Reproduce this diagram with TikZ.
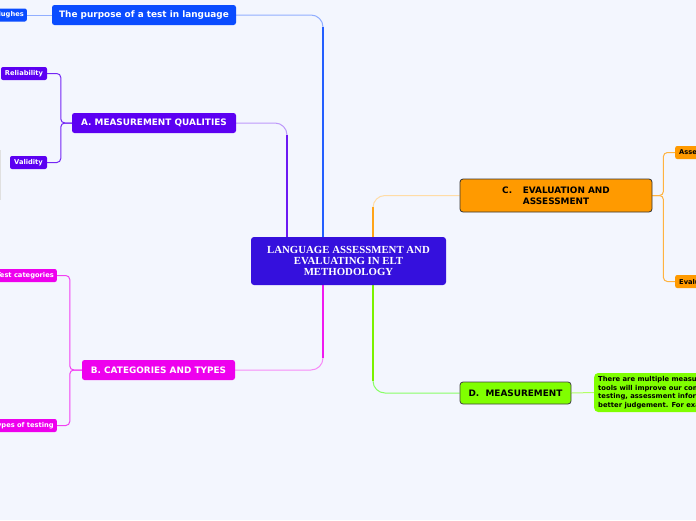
\documentclass[tikz,border=0pt]{standalone}
\usepackage{fontspec}
\setmainfont{DejaVu Sans}
\newfontfamily\serifb{Liberation Serif}
\pgfdeclarelayer{bg}
\pgfdeclarelayer{lines}
\pgfsetlayers{bg,lines,main}
\definecolor{bgc}{HTML}{F3F6FE}
\definecolor{cen}{HTML}{3510DD}
\definecolor{blu}{HTML}{0A4CFF}
\definecolor{vio}{HTML}{5C00F2}
\definecolor{mag}{HTML}{EE00EE}
\definecolor{ora}{HTML}{FF9A00}
\definecolor{grn}{HTML}{80FF00}
\tikzset{
  box/.style={rectangle, rounded corners=2.5pt, inner sep=0pt, align=center, text=white,
     font=\fontsize{8.9}{10.7}\selectfont\bfseries},
  small/.style={rectangle, rounded corners=2pt, inner ysep=0pt, inner xsep=3pt, minimum height=13pt,
     text=white, font=\fontsize{6.7}{8}\selectfont\bfseries},
  trunk/.style={line width=1.9pt},
  twig/.style={line width=1pt},
  branch/.style={line width=1pt, rounded corners=4pt},
}
\begin{document}
\begin{tikzpicture}[x=1pt,y=-1pt]
\useasboundingbox (0,0) rectangle (696,520);
\begin{pgfonlayer}{bg}
\fill[bgc] (0,0) rectangle (696,520);
\end{pgfonlayer}
\clip (0,0) rectangle (696,520);

% central
\node[box, fill=cen, minimum width=195pt, minimum height=48pt, rounded corners=3pt,
      font=\serifb\fontsize{10.8}{11}\selectfont\bfseries] (center) at (348.5,261)
      {LANGUAGE ASSESSMENT AND\\EVALUATING IN ELT\\METHODOLOGY};

% main branches
\node[box, fill=blu, minimum width=184pt, minimum height=20pt] (purpose) at (144,15) {The purpose of a test in language};
\node[box, fill=vio, minimum width=164pt, minimum height=20pt] (A) at (154,123) {A. MEASUREMENT QUALITIES};
\node[box, fill=mag, minimum width=153pt, minimum height=20pt] (B) at (158.5,370) {B. CATEGORIES AND TYPES};
\node[box, fill=ora, draw=black!80, line width=0.8pt, text=black, minimum width=192pt, minimum height=33pt, rounded corners=3pt] (C) at (556,195.5) {C.\hspace{1.2em}EVALUATION AND\\ASSESSMENT};
\node[box, fill=grn, draw=black!75, line width=0.8pt, text=black, minimum width=111pt, minimum height=22pt, rounded corners=3pt] (D) at (515.5,393) {D.\hspace{0.7em}MEASUREMENT};

% sub nodes
\node[small, fill=blu, anchor=east] (hughes) at (27,15) {Hughes};
\node[small, fill=vio, minimum width=46pt] (rel) at (24,73.5) {Reliability};
\node[small, fill=vio, minimum width=37pt] (val) at (28.5,162.5) {Validity};
\node[small, fill=mag, anchor=east] (testcat) at (57,275.5) {Test categories};
\node[small, fill=mag, anchor=east] (types) at (57,425.5) {Types of testing};
\node[small, fill=ora, text=black, anchor=west, inner xsep=4pt] (asse) at (675,152.5) {Assessment};
\node[small, fill=ora, text=black, anchor=west, inner xsep=4pt] (evalu) at (675,281.5) {Evaluation};
\node[rectangle, rounded corners=4pt, fill=grn, anchor=west, minimum height=39pt, inner xsep=4pt, inner ysep=0pt,
      align=left, font=\fontsize{6.8}{8.7}\selectfont\bfseries] (note) at (594,392.5)
      {There are multiple measurement\\tools will improve our comprehension\\testing, assessment information and\\better judgement. For example};

\coordinate (pc) at (323,27);
\coordinate (ac) at (287,135);
\coordinate (bc) at (323,358);
\coordinate (cc) at (373,207);
\coordinate (dc) at (373,381);

\begin{pgfonlayer}{lines}
% purpose
\draw[twig, color=blu!45, rounded corners=12pt] (center.north -| pc) |- (purpose.east);
\draw[trunk, color=blu!90] (center.north -| pc) -- (pc);
\draw[twig, color=blu!45] (purpose.west) -- (hughes.east);
% A
\draw[twig, color=vio!40, rounded corners=12pt] (center.north -| ac) |- (A.east);
\draw[trunk, color=vio!90] (center.north -| ac) -- (ac);
\draw[branch, color=vio!85] (A.west) -- ++(-11,0) |- (rel.east);
\draw[branch, color=vio!85] (A.west) -- ++(-11,0) |- (val.east);
% B
\draw[twig, color=mag!45, rounded corners=12pt] (center.south -| bc) |- (B.east);
\draw[trunk, color=mag!90] (center.south -| bc) -- (bc);
\draw[branch, color=mag!75] (B.west) -- ++(-12,0) |- (testcat.east);
\draw[branch, color=mag!75] (B.west) -- ++(-12,0) |- (types.east);
% C
\draw[twig, color=ora!35, rounded corners=12pt] (center.north -| cc) |- (C.west);
\draw[trunk, color=ora!90] (center.north -| cc) -- (cc);
\draw[branch, color=ora!75] (C.east) -- ++(11,0) |- (asse.west);
\draw[branch, color=ora!75] (C.east) -- ++(11,0) |- (evalu.west);
% D
\draw[twig, color=grn!45!green!60!white, rounded corners=12pt] (center.south -| dc) |- (D.west);
\draw[trunk, color=grn!95!black] (center.south -| dc) -- (dc);
\draw[twig, color=grn!60!white] (D.east) -- (note.west);
% faint line at left edge
\coordinate (g1) at (0.6,150);
\coordinate (g2) at (0.6,200);
\draw[line width=0.8pt, color=black!12] (g1) -- (g2);
\end{pgfonlayer}
\end{tikzpicture}
\end{document}
